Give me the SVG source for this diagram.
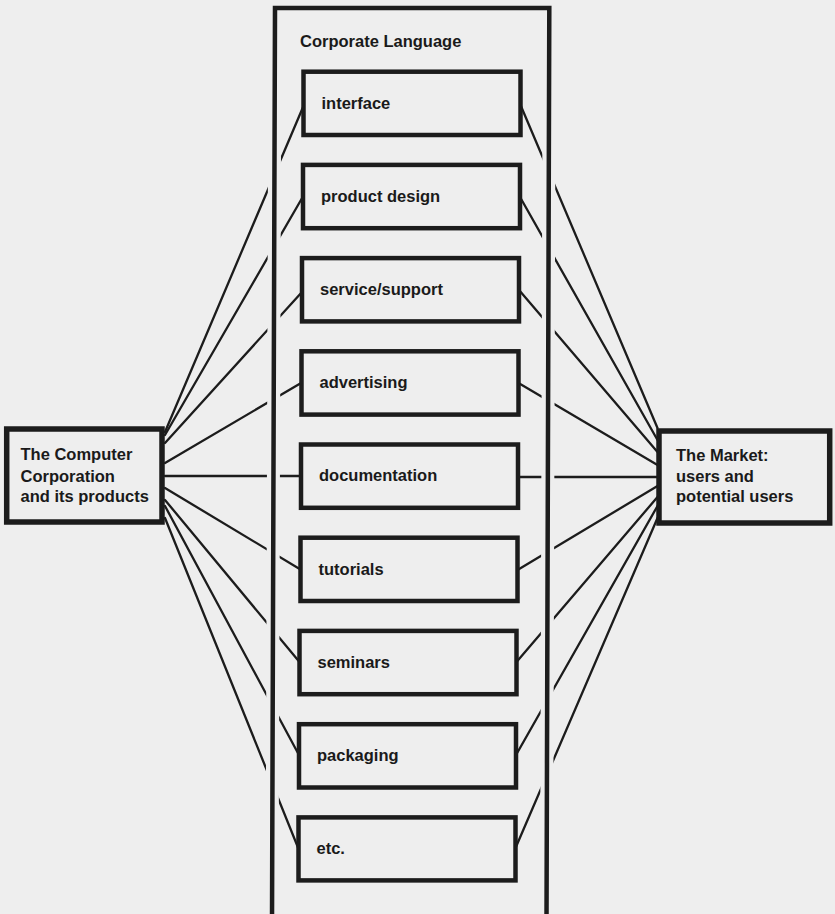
<svg xmlns="http://www.w3.org/2000/svg" width="835" height="914" viewBox="0 0 835 914">
  <defs>
    <style>
      .paper{fill:#eeeeee}
      .frame{fill:none;stroke:#1c1c1c;stroke-width:4.5;stroke-linejoin:miter}
      .box{fill:none;stroke:#1c1c1c;stroke-width:4.5}
      .end{fill:none;stroke:#1c1c1c;stroke-width:5.5}
      .lbl{font-family:"Liberation Sans",Arial,sans-serif;font-weight:bold;font-size:16.5px;fill:#1a1a1a}
      #connectors line{stroke:#1c1c1c;stroke-width:2.3;stroke-linecap:round}
    </style>
    <!-- connectors break where they pass the frame's side walls -->
    <mask id="wallGap" maskUnits="userSpaceOnUse" x="0" y="0" width="835" height="914">
      <rect width="835" height="914" fill="#fff"/>
      <path d="M275 0 L272 914 M549.3 0 L546.5 914" stroke="#000" stroke-width="13"/>
    </mask>
  </defs>

  <rect class="paper" width="835" height="914"/>

  <!-- links: corporation -> each channel -> market -->
  <g id="connectors" mask="url(#wallGap)">
    <line x1="165" y1="432" x2="303.5" y2="106"/>
    <line x1="165" y1="435" x2="303" y2="196.5"/>
    <line x1="165" y1="443" x2="302" y2="292"/>
    <line x1="165" y1="463" x2="301.5" y2="382.7"/>
    <line x1="165" y1="476" x2="301" y2="476"/>
    <line x1="165" y1="488" x2="300.5" y2="569.5"/>
    <line x1="165" y1="500" x2="299.5" y2="662"/>
    <line x1="165" y1="506" x2="299" y2="755"/>
    <line x1="165" y1="518" x2="298.5" y2="848.7"/>

    <line x1="520.5" y1="105" x2="657.5" y2="428"/>
    <line x1="520" y1="197" x2="657.5" y2="440"/>
    <line x1="519" y1="290" x2="657.5" y2="452"/>
    <line x1="518.5" y1="383" x2="657.5" y2="465"/>
    <line x1="518" y1="477" x2="657.5" y2="477"/>
    <line x1="517.5" y1="570" x2="657.5" y2="486"/>
    <line x1="516.5" y1="662" x2="657.5" y2="497"/>
    <line x1="516" y1="755" x2="657.5" y2="506"/>
    <line x1="515.5" y1="848" x2="657.5" y2="518"/>
  </g>

  <!-- Corporate Language frame, open at the foot of the page -->
  <g id="corporate-language">
    <path class="frame" d="M272 920 L275 8 L549.3 8 L546.5 920"/>
    <text class="lbl" x="300" y="47">Corporate Language</text>
  </g>

  <g id="interface">
    <rect class="box" x="303.5" y="71.7" width="217" height="63.3"/>
    <text class="lbl" x="321.5" y="108.5">interface</text>
  </g>
  <g id="product-design">
    <rect class="box" x="303" y="164.9" width="217" height="63.3"/>
    <text class="lbl" x="321" y="201.7">product design</text>
  </g>
  <g id="service-support">
    <rect class="box" x="302" y="258.1" width="217" height="63.3"/>
    <text class="lbl" x="320" y="294.9">service/support</text>
  </g>
  <g id="advertising">
    <rect class="box" x="301.5" y="351.3" width="217" height="63.3"/>
    <text class="lbl" x="319.5" y="388.1">advertising</text>
  </g>
  <g id="documentation">
    <rect class="box" x="301" y="444.5" width="217" height="63.3"/>
    <text class="lbl" x="319" y="481.3">documentation</text>
  </g>
  <g id="tutorials">
    <rect class="box" x="300.5" y="537.7" width="217" height="63.3"/>
    <text class="lbl" x="318.5" y="574.5">tutorials</text>
  </g>
  <g id="seminars">
    <rect class="box" x="299.5" y="630.9" width="217" height="63.3"/>
    <text class="lbl" x="317.5" y="667.7">seminars</text>
  </g>
  <g id="packaging">
    <rect class="box" x="299" y="724.2" width="217" height="63.3"/>
    <text class="lbl" x="317" y="761">packaging</text>
  </g>
  <g id="etc">
    <rect class="box" x="298.5" y="817.4" width="217" height="63"/>
    <text class="lbl" x="316.5" y="854.2">etc.</text>
  </g>

  <g id="computer-corporation">
    <rect class="end" x="6.7" y="429" width="155.3" height="93"/>
    <text class="lbl" x="20.5" y="460">The Computer</text>
    <text class="lbl" x="20.5" y="481.5">Corporation</text>
    <text class="lbl" x="20.5" y="502">and its products</text>
  </g>

  <g id="market">
    <rect class="end" x="659" y="431" width="170.7" height="92"/>
    <text class="lbl" x="676" y="461">The Market:</text>
    <text class="lbl" x="676" y="481.5">users and</text>
    <text class="lbl" x="676" y="502">potential users</text>
  </g>
</svg>
